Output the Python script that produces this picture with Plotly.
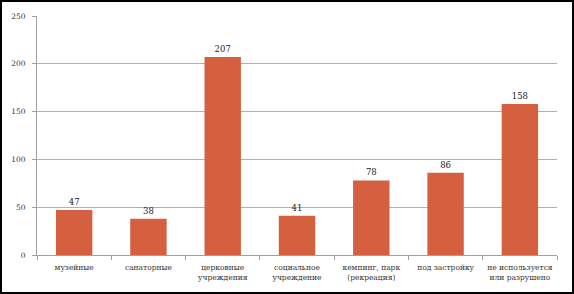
import plotly.graph_objects as go

categories = ["музейные", "санаторные", "церковные<br>учреждения", "социальное<br>учреждение",
              "кемпинг, парк<br>(рекреация)", "под застройку", "не используется<br>или разрушено"]
values = [47, 38, 207, 41, 78, 86, 158]
y_ticks = [0, 50, 100, 150, 200, 250]

W, H = 574, 294
ml, mr, mt, mb = 37, 17, 16, 39
pw, ph = W - ml - mr, H - mt - mb

font = dict(family="DejaVu Serif, Liberation Serif, serif", size=8, color="#333333")

fig = go.Figure(go.Bar(
    x=categories, y=values,
    marker=dict(color="#D4603F", line=dict(width=0)),
    text=values, textposition="outside", cliponaxis=False,
    textfont=dict(family=font["family"], size=8.5, color="#222222"),
    width=0.49,
))

def px_x(p):
    return (p - ml) / pw

def px_y(p):
    return (H - mb - p) / ph

fig.update_layout(
    width=W, height=H,
    margin=dict(l=ml, r=mr, t=mt, b=mb, autoexpand=False),
    paper_bgcolor="white", plot_bgcolor="white",
    font=font,
    showlegend=False,
    xaxis=dict(showline=True, linecolor="#A0A0A0", linewidth=1, tickangle=0, automargin=False,
               ticks="outside", tickson="boundaries", ticklen=4, tickcolor="#A0A0A0",
               ticklabelstandoff=5, tickfont=dict(size=7.5)),
    yaxis=dict(range=[0, 250], tickvals=y_ticks, showgrid=True, gridcolor="#B0B0B0",
               gridwidth=1, showline=True, linecolor="#A0A0A0", linewidth=1, automargin=False,
               ticks="outside", ticklen=4, tickcolor="#A0A0A0", zeroline=False,
               ticklabelstandoff=5, tickfont=dict(size=7.5)),
    shapes=[dict(type="rect", xref="paper", yref="paper",
                 x0=px_x(1), x1=px_x(W - 1), y0=px_y(H - 1), y1=px_y(1),
                 line=dict(color="black", width=2), layer="above")],
)

fig.write_html("out.html", config={"displayModeBar": False},
               post_script="document.body.style.margin='0';document.body.style.overflow='hidden';")
